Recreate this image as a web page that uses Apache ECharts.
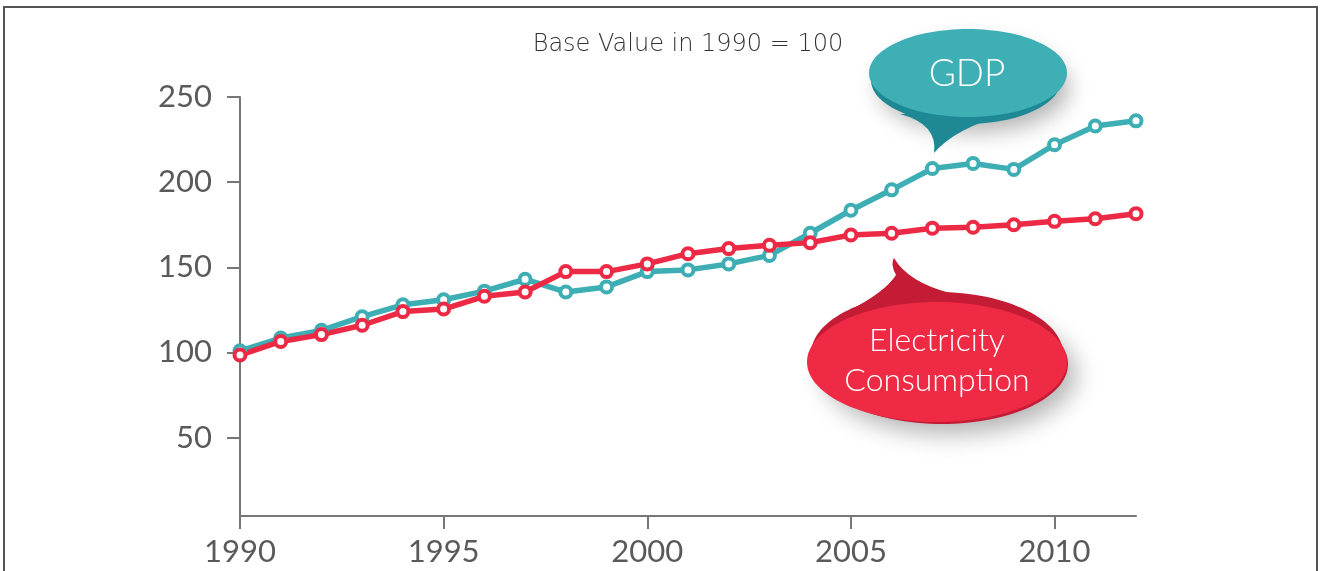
<!DOCTYPE html>
<html>
<head>
<meta charset="utf-8">
<script src="https://cdn.jsdelivr.net/npm/echarts@6/dist/echarts.min.js"></script>
<style>
  html, body { margin: 0; padding: 0; background: #fff; }
  #chart-container { width: 1320px; height: 571px; }
</style>
</head>
<body>
<div id="chart-container"></div>
<script>
var years = [1990, 1991, 1992, 1993, 1994, 1995, 1996, 1997, 1998, 1999, 2000, 2001,
             2002, 2003, 2004, 2005, 2006, 2007, 2008, 2009, 2010, 2011, 2012];
var gdp = [101, 108.5, 113, 121, 128, 131, 136, 143, 135.5, 138.5, 147.5, 148.5,
           152, 157, 170, 183.5, 195.5, 208, 211, 207.5, 222, 233, 236];
var electricity = [98.5, 106.5, 110.5, 116, 124, 125.5, 133, 135.5, 147.5, 147.5, 152, 158,
                   161, 163, 164.5, 169, 170, 173, 173.5, 175, 177, 178.5, 181.5];
var yearTicks = [1990, 1995, 2000, 2005, 2010];
var valueTicks = [50, 100, 150, 200, 250];

var teal = '#3daeb4';
var red = '#ec2a45';
var font = 'Lato';

// curved bubble tail: p = [start, ctrl, pt, ctrl, pt, ...] closed back to start
echarts.graphic.registerShape('tail', echarts.graphic.extendShape({
  shape: { p: [] },
  buildPath: function (ctx, shape) {
    var p = shape.p;
    ctx.moveTo(p[0][0], p[0][1]);
    for (var i = 1; i + 1 < p.length; i += 2) {
      ctx.quadraticCurveTo(p[i][0], p[i][1], p[i + 1][0], p[i + 1][1]);
    }
    ctx.closePath();
  }
}));

function pairs(vals) {
  return years.map(function (y, i) { return [y, vals[i]]; });
}

function lineSeries(name, vals, color) {
  return {
    name: name,
    type: 'line',
    data: pairs(vals),
    symbol: 'circle',
    symbolSize: 11,
    lineStyle: { color: color, width: 5.5 },
    itemStyle: { color: '#fff', borderColor: color, borderWidth: 4 },
    animation: false
  };
}

var dom = document.getElementById('chart-container');
var myChart = echarts.init(dom, null, { renderer: 'canvas' });

var option = {
  backgroundColor: '#fff',
  animation: false,
  grid: { left: 240, right: 184, top: 97, bottom: 55 },
  xAxis: {
    type: 'value',
    min: 1990,
    max: 2012,
    interval: 5,
    splitLine: { show: false },
    axisLine: { lineStyle: { color: '#777', width: 2 } },
    axisTick: { show: true, length: 13, lineStyle: { color: '#777', width: 2 }, customValues: yearTicks },
    axisLabel: {
      customValues: yearTicks,
      color: '#5a5a5a', fontFamily: font, fontSize: 31, margin: 20,
      formatter: function (v) { return String(v); }
    }
  },
  yAxis: {
    type: 'value',
    min: 4,
    max: 250,
    splitLine: { show: false },
    axisLine: { show: true, lineStyle: { color: '#777', width: 2 } },
    axisTick: { show: true, length: 13, lineStyle: { color: '#777', width: 2 }, customValues: valueTicks },
    axisLabel: {
      customValues: valueTicks,
      color: '#5a5a5a', fontFamily: font, fontSize: 31, margin: 28,
      padding: [0, 0, 8, 0]
    }
  },
  graphic: [
    // outer frame
    { type: 'rect', silent: true, z: 0,
      shape: { x: 4, y: 7, width: 1313, height: 600 },
      style: { fill: 'none', stroke: '#555', lineWidth: 2 } },
    { type: 'text', z: 10, x: 688, y: 45,
      style: { text: 'Base Value in 1990 = 100', fill: '#333', font: '200 24px "DejaVu Sans"', align: 'center', verticalAlign: 'middle' } },

    // GDP bubble
    { type: 'ellipse', z: 20, shape: { cx: 966, cy: 80, rx: 95, ry: 44 },
      style: { fill: '#1e8894', shadowBlur: 22, shadowColor: 'rgba(0,0,0,0.3)', shadowOffsetX: 8, shadowOffsetY: 8 } },
    { type: 'tail', z: 21,
      shape: { p: [[900, 114], [938, 124], [934, 153], [955, 128], [1010, 113]] },
      style: { fill: '#1e8894' } },
    { type: 'ellipse', z: 22, shape: { cx: 968, cy: 73, rx: 99, ry: 44 },
      style: { fill: '#3eafb5' } },
    { type: 'text', z: 23, x: 967, y: 74,
      style: { text: 'GDP', fill: '#fff', font: '300 37px Lato', align: 'center', verticalAlign: 'middle' } },

    // Electricity bubble
    { type: 'ellipse', z: 20, shape: { cx: 942, cy: 364, rx: 126, ry: 60 },
      style: { fill: '#c41c35', shadowBlur: 24, shadowColor: 'rgba(0,0,0,0.3)', shadowOffsetX: 8, shadowOffsetY: 10 } },
    { type: 'ellipse', z: 21, shape: { cx: 937, cy: 354, rx: 126, ry: 62 },
      style: { fill: '#c41c35' } },
    { type: 'tail', z: 21,
      shape: { p: [[850, 310], [885, 292], [896, 275], [890, 264], [894, 258], [908, 282], [950, 293]] },
      style: { fill: '#c41c35' } },
    { type: 'ellipse', z: 22, shape: { cx: 937, cy: 362, rx: 130, ry: 60 },
      style: { fill: '#ee2a44' } },
    { type: 'text', z: 23, x: 937, y: 341,
      style: { text: 'Electricity', fill: '#fff', font: '300 32px Lato', align: 'center', verticalAlign: 'middle' } },
    { type: 'text', z: 23, x: 937, y: 381,
      style: { text: 'Consumption', fill: '#fff', font: '300 32px Lato', align: 'center', verticalAlign: 'middle' } }
  ],
  series: [
    lineSeries('GDP', gdp, teal),
    lineSeries('Electricity Consumption', electricity, red)
  ]
};

myChart.setOption(option);
window.addEventListener('resize', myChart.resize);
</script>
</body>
</html>
